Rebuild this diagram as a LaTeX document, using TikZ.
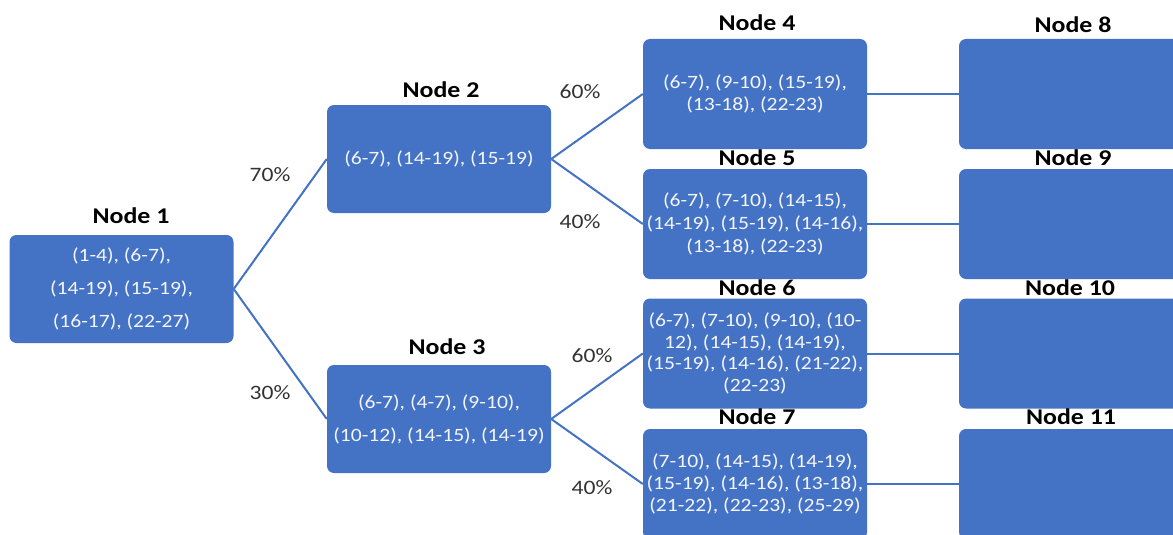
\documentclass[tikz,border=0pt]{standalone}
\usepackage{fontspec}
\setmainfont{Carlito}[FakeStretch=1.15]
\definecolor{boxblue}{HTML}{4472C4}
\definecolor{boxtext}{HTML}{F4F6FB}
\tikzset{
  leaf/.style={rectangle, rounded corners=7pt, fill=boxblue, draw=none,
    minimum width=224pt, minimum height=110pt, inner sep=0pt,
    text=boxtext, align=center, font=\fontsize{18.8}{22}\selectfont},
  title/.style={font=\bfseries\fontsize{22.5}{24}\selectfont, text=black, inner sep=0pt},
  pct/.style={font=\fontsize{20.5}{22}\selectfont, text=black!80, inner sep=0pt},
  link/.style={draw=boxblue, line width=2pt}
}
\begin{document}
\begin{tikzpicture}[x=1pt, y=-1pt]
  \useasboundingbox (0,0) rectangle (1173,535);
  \fill[white] (0,0) rectangle (1173,535);

  % level 1
  \node[leaf, minimum height=108pt, font=\fontsize{18.8}{33}\selectfont] (n1) at (121.5,289)
    {(1-4), (6-7),\\(14-19), (15-19),\\(16-17), (22-27)};
  % level 2
  \node[leaf, minimum height=108pt] (n2) at (439,159) {(6-7), (14-19), (15-19)};
  \node[leaf, minimum height=108pt, font=\fontsize{18.8}{33}\selectfont] (n3) at (439,419)
    {(6-7), (4-7), (9-10),\\(10-12), (14-15), (14-19)};
  % level 3
  \node[leaf] (n4) at (755,94)
    {(6-7), (9-10), (15-19),\\(13-18), (22-23)};
  \node[leaf, font=\fontsize{18.8}{23}\selectfont] (n5) at (755,224)
    {(6-7), (7-10), (14-15),\\(14-19), (15-19), (14-16),\\(13-18), (22-23)};
  \node[leaf, font=\fontsize{18.8}{21.5}\selectfont] (n6) at (755,353.5)
    {(6-7), (7-10), (9-10), (10-\\12), (14-15), (14-19),\\(15-19), (14-16), (21-22),\\(22-23)};
  \node[leaf] (n7) at (755,484)
    {(7-10), (14-15), (14-19),\\(15-19), (14-16), (13-18),\\(21-22), (22-23), (25-29)};
  % level 4
  \node[leaf] (n8) at (1071,94) {};
  \node[leaf] (n9) at (1071,224) {};
  \node[leaf] (n10) at (1071,353.5) {};
  \node[leaf] (n11) at (1071,484) {};

  % titles
  \node[title] (t1) at (131,216) {Node 1};
  \node[title] (t2) at (441,90) {Node 2};
  \node[title] (t3) at (447,347) {Node 3};
  \node[title] (t4) at (757,23) {Node 4};
  \node[title] (t5) at (757,158) {Node 5};
  \node[title] (t6) at (757,288) {Node 6};
  \node[title] (t7) at (757,417) {Node 7};
  \node[title] (t8) at (1073,25) {Node 8};
  \node[title] (t9) at (1073,158) {Node 9};
  \node[title] (t10) at (1070,288) {Node 10};
  \node[title] (t11) at (1071,417) {Node 11};

  % branches
  \draw[link] (n1.east) -- (n2.west);
  \draw[link] (n1.east) -- (n3.west);
  \draw[link] (n2.east) -- (n4.west);
  \draw[link] (n2.east) -- (n5.west);
  \draw[link] (n3.east) -- (n6.west);
  \draw[link] (n3.east) -- (n7.west);
  \draw[link] (n4.east) -- (n8.west);
  \draw[link] (n5.east) -- (n9.west);
  \draw[link] (n6.east) -- (n10.west);
  \draw[link] (n7.east) -- (n11.west);

  % branch probabilities
  \node[pct] (p12) at (270,175) {70\%};
  \node[pct] (p13) at (270,393) {30\%};
  \node[pct] (p24) at (580,92) {60\%};
  \node[pct] (p25) at (580,222) {40\%};
  \node[pct] (p36) at (592,356) {60\%};
  \node[pct] (p37) at (592,488) {40\%};
\end{tikzpicture}
\end{document}
